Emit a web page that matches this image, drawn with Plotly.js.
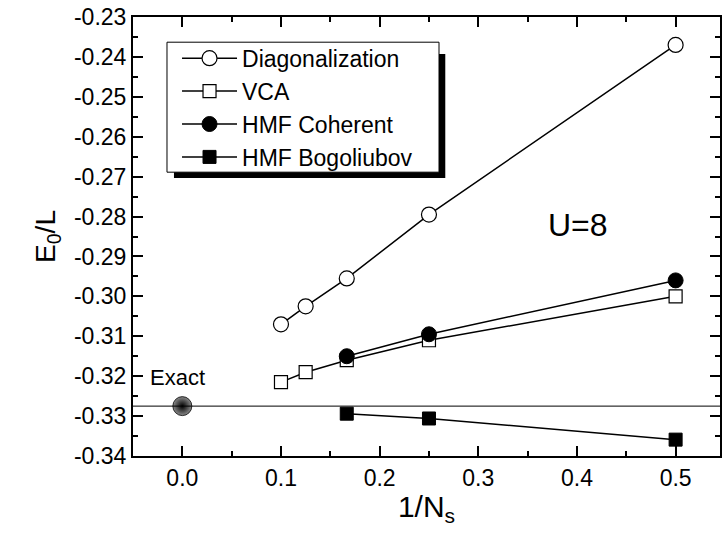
<!DOCTYPE html>
<html><head><meta charset="utf-8">
<script src="https://cdn.plot.ly/plotly-3.0.1.min.js"></script>
<style>html,body{margin:0;padding:0;background:#fff}</style>
</head><body>
<div id="chart" style="width:723px;height:536px"></div>
<script>
const diagX = [0.1, 0.125, 0.16667, 0.25, 0.5];
const diagY = [-0.3070, -0.3025, -0.2955, -0.2795, -0.2370];
const vcaX = [0.1, 0.125, 0.16667, 0.25, 0.5];
const vcaY = [-0.3215, -0.3190, -0.3160, -0.3110, -0.3000];
const cohX = [0.16667, 0.25, 0.5];
const cohY = [-0.3150, -0.3095, -0.2960];
const bogX = [0.16667, 0.25, 0.5];
const bogY = [-0.3294, -0.3306, -0.3359];
const exactX = [0.0];
const exactY = [-0.3275];
const exactLine = -0.3275;
const xTickVals = [0, 0.1, 0.2, 0.3, 0.4, 0.5];
const xTickText = ['0.0', '0.1', '0.2', '0.3', '0.4', '0.5'];
const yTickVals = [-0.34, -0.33, -0.32, -0.31, -0.30, -0.29, -0.28, -0.27, -0.26, -0.25, -0.24, -0.23];
const yTickText = ['-0.34', '-0.33', '-0.32', '-0.31', '-0.30', '-0.29', '-0.28', '-0.27', '-0.26', '-0.25', '-0.24', '-0.23'];

const lineStyle = {color:'black', width:1.5};
const traces = [
  {x:diagX, y:diagY, name:'Diagonalization', mode:'lines+markers', line:lineStyle,
   marker:{symbol:'circle', size:15, color:'white', line:{color:'black', width:1.2}}},
  {x:vcaX, y:vcaY, name:'VCA', mode:'lines+markers', line:lineStyle,
   marker:{symbol:'square', size:13, color:'white', line:{color:'black', width:1.2}}},
  {x:cohX, y:cohY, name:'HMF Coherent', mode:'lines+markers', line:lineStyle,
   marker:{symbol:'circle', size:15, color:'black', line:{color:'black', width:1}}},
  {x:bogX, y:bogY, name:'HMF Bogoliubov', mode:'lines+markers', line:lineStyle,
   marker:{symbol:'square', size:13, color:'black', line:{color:'black', width:1}}},
  {x:exactX, y:exactY, name:'Exact', mode:'markers', showlegend:false,
   marker:{symbol:'circle', size:19, color:'#8a8a8a', gradient:{type:'radial', color:'black'}, line:{color:'black', width:0.8}}}
];

const tickCommon = {ticks:'inside', tickwidth:1.5, tickcolor:'black', showgrid:false, zeroline:false};
const layout = {
  width:723, height:536,
  margin:{l:133, r:3, t:17, b:80},
  paper_bgcolor:'white', plot_bgcolor:'white',
  font:{family:'Arial, Liberation Sans, sans-serif', color:'black'},
  showlegend:true,
  legend:{x:0.075, y:0.955, xanchor:'left', yanchor:'top', bgcolor:'rgba(0,0,0,0)',
    borderwidth:0, font:{size:23}, tracegroupgap:0, itemwidth:55},
  xaxis:Object.assign({range:[-0.05, 0.545], tickvals:xTickVals, ticktext:xTickText, ticklen:10,
    minor:{dtick:0.05, tick0:0, ticks:'inside', ticklen:5, tickwidth:1.5, tickcolor:'black'},
    showline:true, linewidth:2, linecolor:'black', mirror:true,
    tickfont:{size:23}, title:{text:'1/N<sub>s</sub>', font:{size:30}, standoff:6}}, tickCommon),
  yaxis:Object.assign({range:[-0.34, -0.23], tickvals:yTickVals, ticktext:yTickText, ticklen:10,
    minor:{dtick:0.005, tick0:-0.34, ticks:'inside', ticklen:5, tickwidth:1.5, tickcolor:'black'},
    showline:true, linewidth:2, linecolor:'black', mirror:true,
    tickfont:{size:23}, title:{text:'E<sub>0</sub>/L', font:{size:28}, standoff:10}}, tickCommon),
  xaxis2:Object.assign({overlaying:'x', matches:'x', side:'top', anchor:'y2', tickvals:xTickVals, ticklen:10,
    showticklabels:false, minor:{dtick:0.05, tick0:0, ticks:'inside', ticklen:5, tickwidth:1.5, tickcolor:'black'}}, tickCommon),
  yaxis2:Object.assign({overlaying:'y', matches:'y', side:'right', anchor:'x2', tickvals:yTickVals, ticklen:10,
    showticklabels:false, minor:{dtick:0.005, tick0:-0.34, ticks:'inside', ticklen:5, tickwidth:1.5, tickcolor:'black'}}, tickCommon),
  shapes:[
    {type:'line', xref:'paper', yref:'y', x0:0, x1:1, y0:exactLine, y1:exactLine, line:{color:'black', width:1}},
    {type:'rect', xref:'paper', yref:'paper', x0:0.0698, x1:0.532, y0:0.6335, y1:0.9158, fillcolor:'black', line:{width:0}},
    {type:'rect', xref:'paper', yref:'paper', x0:0.0579, x1:0.5213, y0:0.6465, y1:0.9426, fillcolor:'white', line:{color:'black', width:1}}
  ],
  annotations:[
    {x:-0.035, y:-0.3203, xref:'x', yref:'y', text:'Exact', showarrow:false, xanchor:'left', font:{size:22}},
    {x:0.401, y:-0.2820, xref:'x', yref:'y', text:'U=8', showarrow:false, font:{size:32}}
  ]
};
// invisible trace to activate the mirrored top/right axes (minor ticks)
traces.push({x:[0.5], y:[-0.3], xaxis:'x2', yaxis:'y2', mode:'markers', marker:{opacity:0}, showlegend:false, hoverinfo:'skip'});
Plotly.newPlot('chart', traces, layout, {displayModeBar:false});
</script>
</body></html>
